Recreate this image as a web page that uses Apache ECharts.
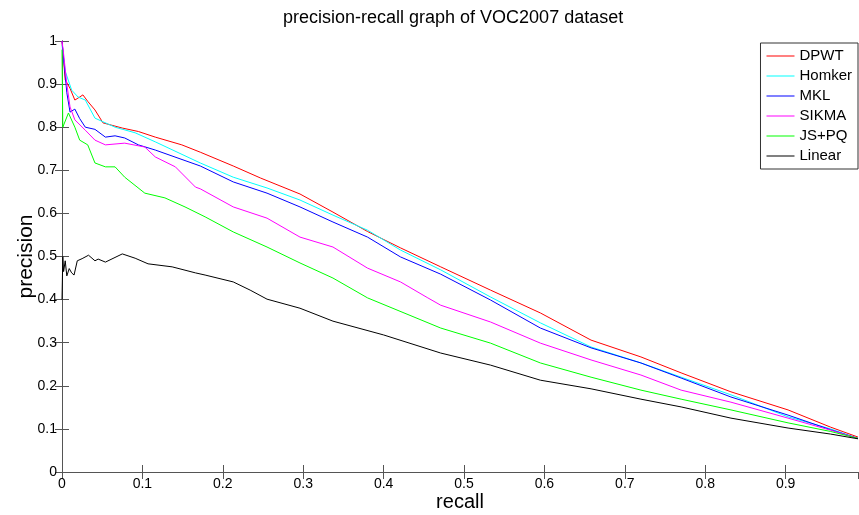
<!DOCTYPE html>
<html lang="en">
<head>
    <meta charset="UTF-8">
    <title>precision-recall graph of VOC2007 dataset</title>
    <script src="https://cdn.jsdelivr.net/npm/echarts@6/dist/echarts.min.js"></script>
    <style>
        html, body { margin: 0; padding: 0; background: #fff; }
        #pr_chart { width: 859px; height: 515px; }
    </style>
</head>
<body>
    <div id="pr_chart"></div>
<script>
    // [recall, precision] pairs
    var dpwt = [[0, 1.0], [0.004, 0.91], [0.010, 0.89], [0.016, 0.863], [0.022, 0.87], [0.026, 0.875],
        [0.032, 0.86], [0.041, 0.84], [0.051, 0.81], [0.075, 0.798], [0.095, 0.79], [0.116, 0.777],
        [0.149, 0.759], [0.172, 0.742], [0.213, 0.71], [0.247, 0.682], [0.296, 0.645], [0.337, 0.603],
        [0.38, 0.558], [0.421, 0.52], [0.471, 0.476], [0.533, 0.422], [0.595, 0.369], [0.658, 0.306],
        [0.72, 0.267], [0.77, 0.23], [0.832, 0.186], [0.903, 0.144], [0.956, 0.104], [0.99, 0.081]];
    var homker = [[0, 0.99], [0.004, 0.93], [0.012, 0.886], [0.02, 0.87], [0.029, 0.863], [0.041, 0.821],
        [0.066, 0.80], [0.091, 0.787], [0.116, 0.766], [0.172, 0.717], [0.213, 0.684], [0.255, 0.659],
        [0.296, 0.631], [0.337, 0.596], [0.38, 0.561], [0.421, 0.515], [0.471, 0.469], [0.533, 0.406],
        [0.595, 0.346], [0.658, 0.29], [0.72, 0.253], [0.77, 0.22], [0.832, 0.179], [0.903, 0.128],
        [0.956, 0.100], [0.99, 0.078]];
    var mkl = [[0, 1.0], [0.006, 0.88], [0.010, 0.835], [0.016, 0.842], [0.022, 0.82], [0.029, 0.80],
        [0.041, 0.795], [0.054, 0.777], [0.066, 0.78], [0.078, 0.775], [0.095, 0.759], [0.116, 0.747],
        [0.172, 0.71], [0.213, 0.673], [0.255, 0.647], [0.296, 0.615], [0.337, 0.58], [0.38, 0.545],
        [0.421, 0.499], [0.471, 0.459], [0.533, 0.399], [0.595, 0.334], [0.658, 0.288], [0.72, 0.253],
        [0.77, 0.218], [0.832, 0.174], [0.903, 0.132], [0.956, 0.098], [0.99, 0.078]];
    var sikma = [[0, 1.0], [0.002, 0.97], [0.006, 0.90], [0.010, 0.847], [0.016, 0.817], [0.029, 0.793],
        [0.041, 0.77], [0.054, 0.759], [0.078, 0.763], [0.103, 0.754], [0.116, 0.731], [0.141, 0.708],
        [0.166, 0.661], [0.172, 0.657], [0.213, 0.615], [0.255, 0.589], [0.296, 0.545], [0.337, 0.522],
        [0.38, 0.473], [0.421, 0.441], [0.455, 0.404], [0.471, 0.387], [0.533, 0.348], [0.595, 0.299],
        [0.658, 0.26], [0.72, 0.225], [0.77, 0.19], [0.832, 0.162], [0.903, 0.125], [0.956, 0.097],
        [0.99, 0.078]];
    var jspq = [[0, 0.98], [0.001, 0.80], [0.008, 0.833], [0.016, 0.80], [0.022, 0.77], [0.032, 0.759],
        [0.041, 0.717], [0.054, 0.708], [0.066, 0.708], [0.078, 0.684], [0.103, 0.647], [0.128, 0.636],
        [0.153, 0.615], [0.178, 0.592], [0.213, 0.557], [0.255, 0.522], [0.296, 0.485], [0.337, 0.45],
        [0.38, 0.404], [0.471, 0.334], [0.533, 0.299], [0.595, 0.253], [0.658, 0.22], [0.72, 0.19],
        [0.77, 0.169], [0.832, 0.144], [0.903, 0.114], [0.956, 0.094], [0.99, 0.078]];
    var linear = [[0, 0.40], [0.001, 0.50], [0.002, 0.465], [0.004, 0.49], [0.006, 0.455], [0.009, 0.472],
        [0.012, 0.462], [0.015, 0.457], [0.019, 0.49], [0.025, 0.495], [0.033, 0.503], [0.041, 0.49],
        [0.045, 0.494], [0.054, 0.487], [0.075, 0.506], [0.091, 0.496], [0.107, 0.483], [0.137, 0.476],
        [0.166, 0.462], [0.178, 0.457], [0.213, 0.441], [0.234, 0.422], [0.255, 0.401], [0.296, 0.38],
        [0.337, 0.35], [0.4, 0.318], [0.471, 0.276], [0.533, 0.248], [0.595, 0.213], [0.658, 0.193],
        [0.72, 0.169], [0.77, 0.151], [0.832, 0.125], [0.903, 0.102], [0.956, 0.088], [0.99, 0.077]];

    var seriesNames = ['DPWT', 'Homker', 'MKL', 'SIKMA', 'JS+PQ', 'Linear'];
    var seriesColors = ['#ff0000', '#00ffff', '#0000ff', '#ff00ff', '#00ff00', '#000000'];
    var seriesData = [dpwt, homker, mkl, sikma, jspq, linear];

    var font = 'Liberation Sans, Arial, sans-serif';
    var axisColor = '#555';

    var chart = echarts.init(document.getElementById('pr_chart'), null, { renderer: 'canvas' });

    var option = {
        animation: false,
        backgroundColor: '#fff',
        title: {
            text: 'precision-recall graph of VOC2007 dataset',
            left: 283,
            top: 9,
            padding: 0,
            textStyle: { fontFamily: font, fontSize: 18, fontWeight: 'normal', color: '#000' }
        },
        legend: {
            data: seriesNames,
            orient: 'vertical',
            right: 1,
            top: 43,
            padding: [5, 6, 5, 6],
            itemGap: 4,
            itemWidth: 28,
            itemHeight: 1,
            icon: 'rect',
            borderColor: '#333',
            borderWidth: 1,
            borderRadius: 0,
            backgroundColor: '#fff',
            textStyle: { fontFamily: font, fontSize: 15, lineHeight: 16, color: '#000' }
        },
        grid: { left: 62, right: 1, top: 41, bottom: 43, outerBoundsMode: 'none' },
        xAxis: [
            {
                type: 'value', min: 0, max: 0.99, interval: 0.1,
                name: 'recall', nameLocation: 'middle', nameGap: 20, nameMoveOverlap: false,
                nameTextStyle: { fontFamily: font, fontSize: 20, color: '#000' },
                axisLine: { lineStyle: { color: axisColor } },
                axisTick: { inside: true, length: 7, lineStyle: { color: axisColor } },
                axisLabel: { fontFamily: font, fontSize: 14, color: '#000', margin: 5, showMaxLabel: false },
                splitLine: { show: false }
            },
            {
                type: 'value', min: 0, max: 0.99, interval: 0.1, position: 'top',
                axisLine: { lineStyle: { color: axisColor } },
                axisTick: { inside: true, length: 7, lineStyle: { color: axisColor } },
                axisLabel: { show: false },
                splitLine: { show: false }
            }
        ],
        yAxis: [
            {
                type: 'value', min: 0, max: 1, interval: 0.1,
                name: 'precision', nameLocation: 'middle', nameGap: 25, nameMoveOverlap: false,
                nameTextStyle: { fontFamily: font, fontSize: 21, color: '#000' },
                axisLine: { show: true, lineStyle: { color: axisColor } },
                axisTick: { show: true, inside: true, length: 7, lineStyle: { color: axisColor } },
                axisLabel: { fontFamily: font, fontSize: 14, color: '#000', margin: 5 },
                splitLine: { show: false }
            },
            {
                type: 'value', min: 0, max: 1, interval: 0.1, position: 'right',
                axisLine: { show: true, lineStyle: { color: axisColor } },
                axisTick: { show: true, inside: true, length: 7, lineStyle: { color: axisColor } },
                axisLabel: { show: false },
                splitLine: { show: false }
            }
        ],
        series: seriesNames.map(function (name, i) {
            return {
                name: name,
                type: 'line',
                xAxisIndex: 0,
                yAxisIndex: 0,
                data: seriesData[i],
                symbol: 'none',
                color: seriesColors[i],
                lineStyle: { width: 1, color: seriesColors[i] }
            };
        })
    };

    chart.setOption(option);
</script>
</body>
</html>
